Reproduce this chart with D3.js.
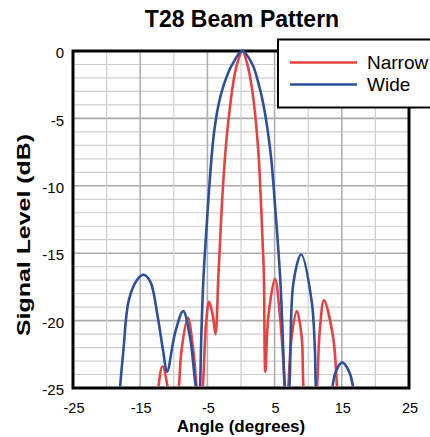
<!DOCTYPE html>
<html lang="en">
<head>
<meta charset="UTF-8">
<title>T28 Beam Pattern</title>
<script src="https://cdnjs.cloudflare.com/ajax/libs/d3/7.9.0/d3.min.js"></script>
<style>
  body { margin: 0; overflow: hidden; background: #fff; font-family: 'Liberation Sans', Arial, Helvetica, sans-serif; }
</style>
</head>
<body>
<div id="root"></div>
<script>
// Narrow beam (red)
const narrowAngle = [-13.0, -12.3, -11.7, -10.9, -10.2, -9.25, -8.85, -7.9, -7.1, -6.6, -6.2, -5.7, -5.2, -4.75, -4.2, -3.8,
  -3.35, -3.1, -2.8, -2.4, -2.05, -1.6, -1.2, -0.6, 0.2, 0.95, 1.55, 1.95, 2.35, 2.65, 2.95, 3.2, 3.4, 3.62, 4.07, 5.06, 5.8,
  6.55, 6.8, 7.04, 7.54, 8.3, 9.03, 9.3, 10.3, 11.3, 11.7, 12.35, 13.7, 14.3, 14.7]
const narrowDb = [-30, -25, -23.4, -25, -30, -25, -22.2, -19.8, -22.2, -25, -27, -25, -20.2, -18.6, -19.6, -21.0,
  -16.5, -14, -11, -8, -6, -4, -2.5, -1, 0, -1, -2.5, -4, -6, -8, -11, -14, -16.5, -23.8, -19.7, -16.9, -19.7,
  -25, -27, -25, -21.2, -19.3, -21.2, -25, -30, -25, -20.9, -18.5, -21.2, -25, -28]

// Wide beam (blue)
const wideAngle = [-18.6, -18.0, -17.5, -16.7, -15.5, -14.5, -13.5, -12.4, -11.6, -11.0, -9.8, -8.6, -7.6, -6.9, -6.6, -6.35,
  -6.1, -5.9, -5.6, -5.25, -4.85, -4.4, -4.0, -3.35, -2.55, -1.3, 0.2, 1.7, 2.65, 3.35, 4.0, 4.5, 5.0, 5.45, 5.85, 6.2, 6.5,
  6.8, 7.2, 7.8, 8.95, 10.5, 11.0, 11.15, 12.4, 13.6, 14.1, 15.05, 16.1, 16.7, 17.2]
const wideDb = [-30, -25, -22.2, -18.5, -17.0, -16.6, -17.1, -19.7, -22.2, -23.8, -20.9, -19.3, -21.2, -24.2, -25.5, -27,
  -25, -21, -17, -14, -11, -8, -6, -4, -2.5, -1, 0, -1, -2.5, -4, -6, -8, -11, -14, -17, -21, -25,
  -27, -25, -17.2, -15.1, -18.5, -22.2, -25, -32, -25, -23.8, -23.1, -23.8, -25, -28]

const xTicks = [-25, -15, -5, 5, 15, 25]
const yTicks = [0, -5, -10, -15, -20, -25]
const series = [
  { name: 'Narrow', color: '#e8413f', angle: narrowAngle, db: narrowDb },
  { name: 'Wide', color: '#2e4f9d', angle: wideAngle, db: wideDb }
]

const W = 430, H = 437
const margin = { top: 51, left: 73, right: 21, bottom: 49 }
const w = W - margin.left - margin.right
const h = H - margin.top - margin.bottom

const svg = d3.select('#root').append('svg')
  .attr('width', W).attr('height', H)

const x = d3.scaleLinear().domain([-25, 25]).range([margin.left, margin.left + w])
const y = d3.scaleLinear().domain([-25, 0]).range([margin.top + h, margin.top])

// Title
svg.append('text')
  .attr('x', 242).attr('y', 27)
  .attr('text-anchor', 'middle')
  .style('font-size', '23px').style('font-weight', 'bold')
  .text('T28 Beam Pattern')

// Grid
const grid = svg.append('g')
grid.selectAll('.hminor').data(d3.range(-24, 0)).enter().append('line')
  .attr('x1', x(-25)).attr('x2', x(25))
  .attr('y1', d => y(d)).attr('y2', d => y(d))
  .attr('stroke', d => d % 5 === 0 ? '#a9a9a9' : '#cfcfcf')
  .attr('stroke-width', d => d % 5 === 0 ? 1.6 : 1.2)
grid.selectAll('.vline').data(d3.range(-20, 25, 5)).enter().append('line')
  .attr('y1', y(-25)).attr('y2', y(0))
  .attr('x1', d => x(d)).attr('x2', d => x(d))
  .attr('stroke', d => d % 10 === 0 ? '#cfcfcf' : '#b0b0b0')
  .attr('stroke-width', d => d % 10 === 0 ? 1.2 : 1.6)

// Frame
svg.append('rect')
  .attr('x', x(-25)).attr('y', y(0))
  .attr('width', w).attr('height', h)
  .attr('fill', 'none').attr('stroke', '#000').attr('stroke-width', 3)

// Clip
svg.append('clipPath').attr('id', 'plotclip')
  .append('rect')
  .attr('x', x(-25)).attr('y', y(0) - 6)
  .attr('width', w).attr('height', h + 6 - 1.5)

const line = d3.line()
  .x(d => x(d[0])).y(d => y(d[1]))
  .curve(d3.curveCatmullRom.alpha(0.5))

svg.append('g').attr('clip-path', 'url(#plotclip)')
  .selectAll('path').data(series).enter().append('path')
  .attr('d', s => line(s.angle.map((a, i) => [a, s.db[i]])))
  .attr('fill', 'none')
  .attr('stroke', s => s.color)
  .attr('stroke-width', 2.6)
  .attr('stroke-linejoin', 'round')

// Axis labels
svg.append('g').selectAll('text').data(yTicks).enter().append('text')
  .attr('x', 64).attr('y', d => y(d) + 2)
  .attr('dy', '0.35em')
  .attr('text-anchor', 'end')
  .style('font-size', '15px')
  .text(d => d)

svg.append('g').selectAll('text').data(xTicks).enter().append('text')
  .attr('x', d => x(d) + 1).attr('y', 413)
  .attr('text-anchor', 'middle')
  .style('font-size', '14.5px')
  .text(d => d)

svg.append('text')
  .attr('x', 241).attr('y', 432)
  .attr('text-anchor', 'middle')
  .style('font-size', '17px').style('font-weight', 'bold')
  .text('Angle (degrees)')

svg.append('text')
  .attr('transform', 'translate(24,235) rotate(-90)')
  .attr('dy', '0.35em')
  .attr('text-anchor', 'middle')
  .attr('textLength', 202).attr('lengthAdjust', 'spacingAndGlyphs')
  .style('font-size', '18px').style('font-weight', 'bold')
  .text('Signal Level (dB)')

// Legend
const legend = svg.append('g')
legend.append('rect')
  .attr('x', 278).attr('y', 39.5)
  .attr('width', 180).attr('height', 68)
  .attr('fill', '#fff').attr('stroke', '#000').attr('stroke-width', 2)
const item = legend.selectAll('.item').data(series).enter().append('g')
  .attr('transform', (d, i) => `translate(0, ${62.5 + i * 22})`)
item.append('line')
  .attr('x1', 290).attr('x2', 357)
  .attr('stroke', d => d.color).attr('stroke-width', 2.6)
item.append('text')
  .attr('x', 367).attr('dy', '0.35em')
  .style('font-size', '19px')
  .text(d => d.name)
</script>
</body>
</html>
